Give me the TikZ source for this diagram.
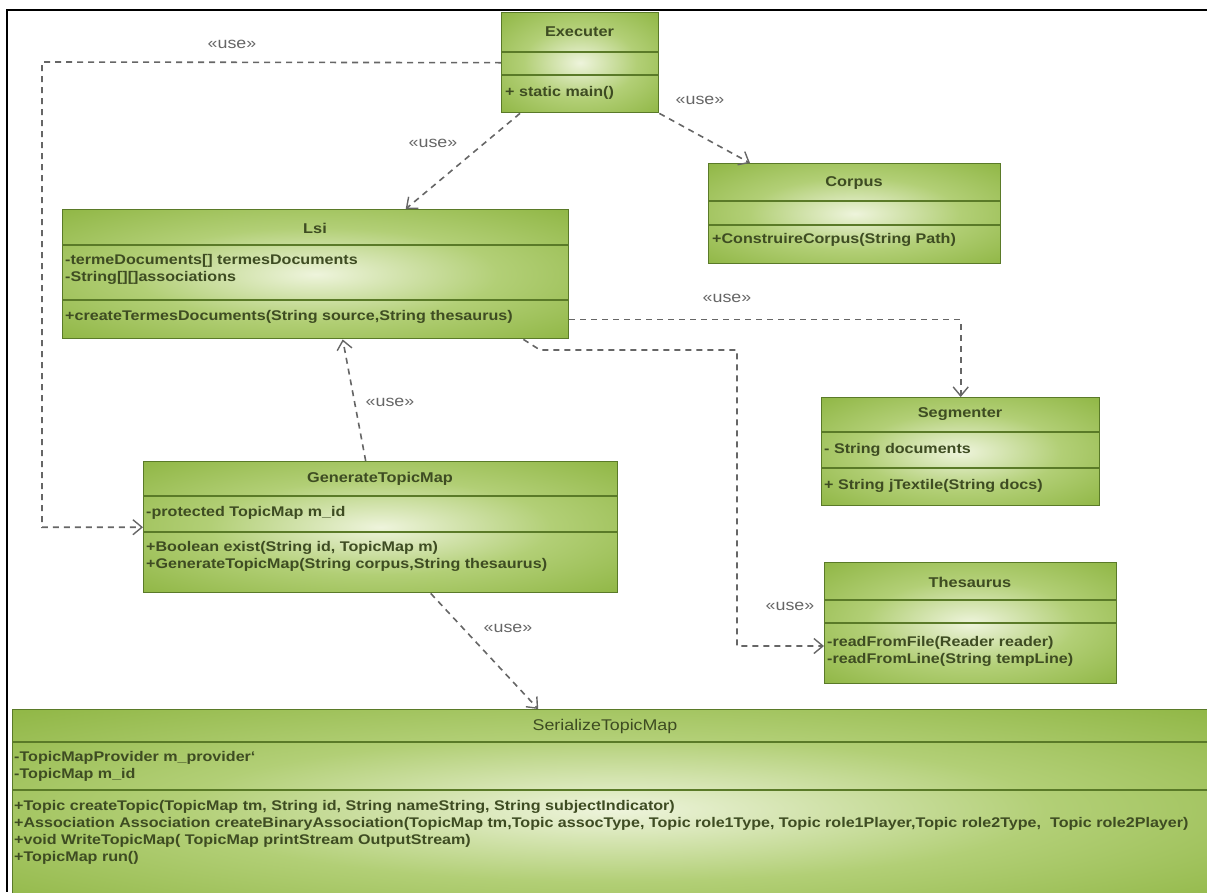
\documentclass[tikz,border=0pt]{standalone}
\usepackage{fontspec}
\setmainfont{Liberation Sans}[FakeStretch=1.15]
\usetikzlibrary{arrows.meta}

\definecolor{classout}{HTML}{84AE34}
\definecolor{classmid}{HTML}{B2CF76}
\definecolor{classin}{HTML}{EEF4DC}
\definecolor{classline}{HTML}{5A7A28}
\definecolor{classtext}{HTML}{3E4C22}
\definecolor{depgray}{HTML}{666666}
\pgfdeclareradialshading{classglow}{\pgfpoint{0bp}{0bp}}{%
  color(0bp)=(classin); color(18bp)=(classmid); color(42bp)=(classout);
  color(50bp)=(classout)}

\begin{document}
\begin{tikzpicture}[x=1pt,y=-1pt,
  umlclass/.style={draw=classline,line width=1.4pt,shading=classglow,
    rectangle,inner sep=0pt,anchor=north west},
  cline/.style={classline,line width=1.4pt},
  ctitle/.style={font=\bfseries\fontsize{14.2}{17}\selectfont,text=classtext,inner sep=0pt},
  member/.style={anchor=west,font=\bfseries\fontsize{14}{17}\selectfont,
    text=classtext,inner sep=0pt},
  usedep/.style={depgray,line width=1.6pt,dash pattern=on 6pt off 5pt,
    -{Straight Barb[length=9pt,width=15pt,line width=1.4pt]}},
  stereo/.style={font=\fontsize{15.5}{17}\selectfont,text=depgray,inner sep=1pt}]
  % pixel grid of the screenshot, y grows downwards
  \useasboundingbox (0,0) rectangle (1207,892);
  \clip (0,0) rectangle (1207,892);
  \draw[line width=2pt] (1207,10) -- (7,10) -- (7,892);

  % Executer
  \node[umlclass,minimum width=157pt,minimum height=100pt] (exec) at (501,12) {};
  \draw[cline] (501,52) -- (658,52);
  \draw[cline] (501,75) -- (658,75);
  \node[ctitle] (execname) at (579.5,32) {Executer};
  \node[member] (execm1) at (505,93) {+ static main()};

  % Corpus
  \node[umlclass,minimum width=292pt,minimum height=100pt] (corpus) at (708,163) {};
  \draw[cline] (708,201) -- (1000,201);
  \draw[cline] (708,225) -- (1000,225);
  \node[ctitle] (corpusname) at (854,183) {Corpus};
  \node[member] (corpusm1) at (712,240) {+ConstruireCorpus(String Path)};

  % Lsi
  \node[umlclass,minimum width=506pt,minimum height=129pt] (lsi) at (62,209) {};
  \draw[cline] (62,245) -- (568,245);
  \draw[cline] (62,300) -- (568,300);
  \node[ctitle] (lsiname) at (315,228) {Lsi};
  \node[member] (lsia1) at (65,261) {-termeDocuments[] termesDocuments};
  \node[member] (lsia2) at (65,278) {-String[][]associations};
  \node[member] (lsim1) at (65,317) {+createTermesDocuments(String source,String thesaurus)};

  % Segmenter
  \node[umlclass,minimum width=278pt,minimum height=108pt] (seg) at (821,397) {};
  \draw[cline] (821,432) -- (1099,432);
  \draw[cline] (821,468) -- (1099,468);
  \node[ctitle] (segname) at (960,414) {Segmenter};
  \node[member] (sega1) at (824,450) {- String documents};
  \node[member] (segm1) at (824,486) {+ String jTextile(String docs)};

  % GenerateTopicMap
  \node[umlclass,minimum width=474pt,minimum height=131pt] (gtm) at (143,461) {};
  \draw[cline] (143,496) -- (617,496);
  \draw[cline] (143,532) -- (617,532);
  \node[ctitle] (gtmname) at (380,479) {GenerateTopicMap};
  \node[member] (gtma1) at (146,513) {-protected TopicMap m\_id};
  \node[member] (gtmm1) at (146,548) {+Boolean exist(String id, TopicMap m)};
  \node[member] (gtmm2) at (146,565) {+GenerateTopicMap(String corpus,String thesaurus)};

  % Thesaurus
  \node[umlclass,minimum width=292pt,minimum height=121pt] (thes) at (824,562) {};
  \draw[cline] (824,600) -- (1116,600);
  \draw[cline] (824,623) -- (1116,623);
  \node[ctitle] (thesname) at (970,582) {Thesaurus};
  \node[member] (thesm1) at (827,643) {-readFromFile(Reader reader)};
  \node[member] (thesm2) at (827,660) {-readFromLine(String tempLine)};

  % SerializeTopicMap
  \node[umlclass,minimum width=1203pt,minimum height=200pt] (ser) at (12,709) {};
  \draw[cline] (12,742) -- (1215,742);
  \draw[cline] (12,790) -- (1215,790);
  \node[ctitle,font=\fontsize{15.5}{17}\selectfont] (sername) at (605,726) {SerializeTopicMap};
  \node[member] (sera1) at (14,758) {-TopicMapProvider m\_provider`};
  \node[member] (sera2) at (14,775) {-TopicMap m\_id};
  \node[member] (serm1) at (14,807) {+Topic createTopic(TopicMap tm, String id, String nameString, String subjectIndicator)};
  \node[member] (serm2) at (14,824) {+Association Association createBinaryAssociation(TopicMap tm,Topic assocType, Topic role1Type, Topic role1Player,Topic role2Type,\ \ Topic role2Player)};
  \node[member] (serm3) at (14,841) {+void WriteTopicMap( TopicMap printStream OutputStream)};
  \node[member] (serm4) at (14,858) {+TopicMap run()};

  % dependencies
  \coordinate (bendexec) at (42,62);
  \draw[usedep] (exec.west) -- (bendexec) |- (gtm.west);
  \node[stereo] (use1) at (232,44) {«use»};

  \draw[usedep] ([xshift=19pt]exec.south west) -- ([xshift=90pt]lsi.north);
  \node[stereo] (use2) at (433,143) {«use»};

  \draw[usedep] (exec.south east) -- ([xshift=42pt]corpus.north west);
  \node[stereo] (use3) at (700,100) {«use»};

  \draw[usedep] ([yshift=20pt]lsi.south east) -| (seg.north);
  \node[stereo] (use4) at (727,298) {«use»};

  \coordinate (bendlsi1) at (540,350);
  \coordinate (bendlsi2) at (737,646);
  \draw[usedep] ([xshift=-46pt]lsi.south east) -- (bendlsi1) -| (bendlsi2)
    -- (bendlsi2 -| thes.west);
  \node[stereo] (use5) at (790,606) {«use»};

  \draw[usedep] ([xshift=-15pt]gtm.north) -- ([xshift=27pt]lsi.south);
  \node[stereo] (use6) at (390,402) {«use»};

  \draw[usedep] ([xshift=50pt]gtm.south) -- ([xshift=-76pt]ser.north);
  \node[stereo] (use7) at (508,628) {«use»};
\end{tikzpicture}
\end{document}
